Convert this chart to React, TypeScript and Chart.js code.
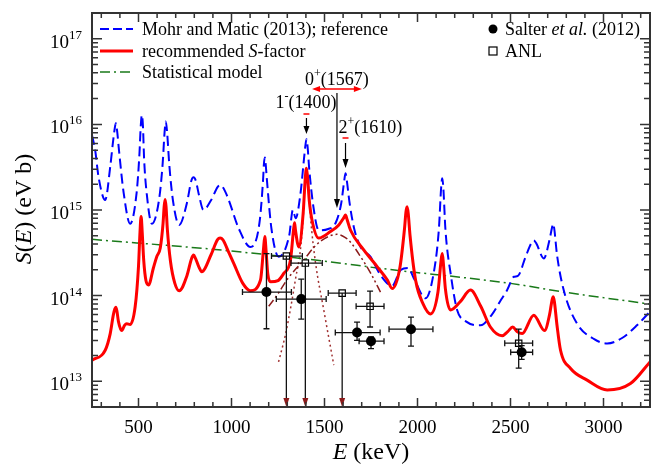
import React, { useEffect, useRef } from 'react';
import { Chart, registerables } from 'chart.js';
Chart.register(...registerables);

const FONT = "'Liberation Serif', 'Times New Roman', serif";

// Mohr and Matic (2013); reference  (blue dashed)
const blueE = [250, 267, 285, 321, 348, 362, 371, 378, 385, 395, 420, 455, 490, 505, 512, 518, 524, 530, 545, 572, 610, 630, 640, 647, 654, 665, 685, 719, 760, 784, 796, 808, 825, 849, 890, 925, 939, 953, 980, 1040, 1102, 1150, 1170, 1174, 1179, 1184, 1190, 1215, 1254, 1310, 1330, 1345, 1370, 1390, 1397, 1403, 1409, 1418, 1440, 1469, 1520, 1559, 1590, 1606, 1613, 1620, 1635, 1660, 1694, 1747, 1801, 1864, 1910, 1950, 1980, 2043, 2090, 2115, 2127, 2133, 2139, 2150, 2180, 2213, 2260, 2339, 2400, 2450, 2482, 2518, 2540, 2580, 2612, 2625, 2638, 2679, 2710, 2723, 2729, 2735, 2750, 2786, 2858, 2950, 3020, 3100, 3180, 3250];
const blueS = [7.5e15, 5e15, 2.45e15, 1.31e15, 3.2e15, 6e15, 8.6e15, 1.03e16, 8.4e15, 5e15, 1.6e15, 6.9e14, 1.6e15, 4.5e15, 9.5e15, 1.29e16, 9.5e15, 4e15, 1.5e15, 6.9e14, 1.3e15, 3.5e15, 8e15, 1.08e16, 8e15, 3.5e15, 1.3e15, 6.7e14, 1.2e15, 2.2e15, 2.41e15, 2.2e15, 1.5e15, 1.0e15, 1.3e15, 1.85e15, 1.96e15, 1.85e15, 1.4e15, 6e14, 3.7e14, 7e14, 2.3e15, 3.4e15, 4.1e15, 3.4e15, 2.3e15, 6e14, 2.85e14, 5e14, 1e15, 8e14, 1.5e15, 4e15, 5.6e15, 6.7e15, 5.5e15, 3e15, 1.1e15, 5.8e14, 6e14, 7e14, 1.2e15, 2.2e15, 2.69e15, 2.2e15, 1.2e15, 6e14, 3.7e14, 2.85e14, 1.74e14, 1.3e14, 2e14, 2.1e14, 1.6e14, 9.3e13, 2e14, 6e14, 1.8e15, 2.35e15, 1.8e15, 6e14, 1.7e14, 6.8e13, 5e13, 4.5e13, 6e13, 9e13, 1.16e14, 1.66e14, 1.7e14, 2.8e14, 4.1e14, 4.4e14, 4.1e14, 2.72e14, 4.5e14, 6.2e14, 6.9e14, 6.1e14, 3e14, 1.16e14, 4.7e13, 3.1e13, 2.76e13, 3.2e13, 4.5e13, 6.5e13];

// recommended S-factor (red solid)
const redE = [250, 321, 348, 365, 373, 378, 384, 392, 410, 425, 437, 455, 482, 500, 508, 514, 520, 528, 540, 554, 580, 598, 617, 632, 638, 643, 648, 655, 672, 695, 719, 760, 785, 796, 807, 825, 840, 890, 925, 939, 953, 984, 1012, 1060, 1102, 1156, 1172, 1179, 1186, 1195, 1210, 1250, 1281, 1317, 1334, 1339, 1344, 1362, 1385, 1397, 1403, 1409, 1418, 1433, 1469, 1532, 1577, 1605, 1613, 1621, 1640, 1712, 1784, 1838, 1864, 1905, 1930, 1938, 1944, 1950, 1960, 1990, 2030, 2070, 2110, 2127, 2133, 2139, 2150, 2177, 2230, 2285, 2340, 2392, 2455, 2485, 2512, 2535, 2563, 2625, 2683, 2710, 2724, 2730, 2736, 2750, 2769, 2823, 2912, 3020, 3145, 3250];
const redS = [1.76e13, 2.3e13, 3.6e13, 6e13, 7e13, 7.3e13, 6.6e13, 5e13, 3.9e13, 4.5e13, 4.7e13, 4.6e13, 7.4e13, 2.2e14, 5.5e14, 8.4e14, 5.5e14, 2.6e14, 1.5e14, 1.33e14, 2.1e14, 2.85e14, 3.6e14, 7e14, 1.1e15, 1.33e15, 1.1e15, 6e14, 2.5e14, 1.4e14, 1.14e14, 1.7e14, 2.7e14, 2.98e14, 2.7e14, 2.15e14, 1.9e14, 3e14, 4.5e14, 4.7e14, 4.5e14, 3.25e14, 2.38e14, 1.4e14, 1.14e14, 1.52e14, 3.5e14, 4.9e14, 3.3e14, 1.8e14, 1.45e14, 1.5e14, 1.82e14, 2.6e14, 6e14, 7.1e14, 5.8e14, 3.7e14, 9e14, 2.4e15, 3.08e15, 2.4e15, 1.3e15, 7.6e14, 4.7e14, 5.6e14, 6.7e14, 8.2e14, 8.75e14, 7.8e14, 5.8e14, 3.4e14, 2.17e14, 1.52e14, 1.21e14, 2.1e14, 6e14, 9.5e14, 1.09e15, 9.2e14, 5e14, 1.5e14, 8e13, 6.1e13, 1.1e14, 2.6e14, 3.1e14, 2.4e14, 1.2e14, 6.8e13, 8.5e13, 1.16e14, 7.5e13, 4.3e13, 3.4e13, 3.8e13, 4.3e13, 3.8e13, 3.6e13, 5.9e13, 3.9e13, 6e13, 9e13, 9.7e13, 8.5e13, 4.5e13, 2.3e13, 1.41e13, 1.03e13, 7.9e12, 9.4e12, 1.68e13];

// Statistical model (green dash-dot)
const statE = [250, 948, 1532, 1801, 2500, 2787, 3250];
const statS = [4.54e14, 3.4e14, 2.48e14, 2.08e14, 1.39e14, 1.1e14, 7.96e13];

// 0+ (1567) broad contribution (dark red dash-dot-dot)
const broadE = [1200, 1250, 1300, 1388, 1440, 1478, 1530, 1567, 1610, 1640, 1694, 1750, 1801];
const broadS = [7.5e13, 1.05e14, 1.55e14, 2.6e14, 3.6e14, 4.3e14, 5e14, 5.2e14, 4.8e14, 4.2e14, 2.85e14, 1.8e14, 1.1e14];

// 1- (1400) narrow contribution (dark red dotted)
const narrowE = [1253, 1290, 1317, 1345, 1371, 1385, 1395, 1403, 1412, 1425, 1452, 1496, 1550];
const narrowS = [1.68e13, 3.5e13, 7e13, 1.6e14, 3.5e14, 8e14, 2e15, 2.9e15, 2e15, 8e14, 2.4e14, 6.8e13, 1.54e13];

// Salter et al. (2012)
const salterE = [1188, 1375, 1675, 1750, 1965, 2560];
const salterS = [1.1e14, 9.1e13, 3.7e13, 2.94e13, 4.05e13, 2.18e13];
const salterElo = [1059, 1241, 1558, 1686, 1847, 2501];
const salterEhi = [1322, 1509, 1799, 1820, 2083, 2619];
const salterSlo = [4.1e13, 5.3e13, 3.0e13, 2.4e13, 2.57e13, 1.8e13];
const salterShi = [3.1e14, 1.56e14, 4.9e13, 3.3e13, 5.6e13, 2.6e13];

// ANL
const anlE = [1295, 1397, 1595, 1745, 2544];
const anlS = [2.9e14, 2.4e14, 1.07e14, 7.5e13, 2.78e13];
const anlElo = [1215, 1320, 1520, 1670, 2469];
const anlEhi = [1381, 1488, 1670, 1820, 2619];
const anlSlo = [0, 0, 0, 4.3e13, 1.42e13];
const anlShi = [0, 0, 0, 1.13e14, 4.05e13];
const anlUpperLimit = [true, true, true, false, false];

const xMajorTicks = [500, 1000, 1500, 2000, 2500, 3000];
const yDecades = [13, 14, 15, 16, 17];

const pts = (xs: number[], ys: number[]) => xs.map((x, i) => ({ x, y: ys[i] }));

type Part = { t: string; it?: boolean; sup?: boolean };
function partFont(p: Part, size: number) {
  const s = p.sup ? Math.round(size * 0.68) : size;
  return `${p.it ? 'italic ' : ''}${s}px ${FONT}`;
}
function richWidth(ctx: CanvasRenderingContext2D, parts: Part[], size: number) {
  let w = 0;
  for (const p of parts) { ctx.font = partFont(p, size); w += ctx.measureText(p.t).width; }
  return w;
}
function drawRich(ctx: CanvasRenderingContext2D, parts: Part[], x: number, y: number, size: number, align: 'left' | 'right' | 'center') {
  const w = richWidth(ctx, parts, size);
  let cx = align === 'left' ? x : align === 'right' ? x - w : x - w / 2;
  ctx.textAlign = 'left';
  ctx.textBaseline = 'alphabetic';
  for (const p of parts) {
    ctx.font = partFont(p, size);
    ctx.fillText(p.t, cx, p.sup ? y - size * 0.42 : y);
    cx += ctx.measureText(p.t).width;
  }
}

function arrowHead(ctx: CanvasRenderingContext2D, x: number, y: number, dir: 'down' | 'left' | 'right', len: number, hw: number) {
  ctx.beginPath();
  if (dir === 'down') { ctx.moveTo(x, y); ctx.lineTo(x - hw, y - len); ctx.lineTo(x + hw, y - len); }
  if (dir === 'left') { ctx.moveTo(x, y); ctx.lineTo(x + len, y - hw); ctx.lineTo(x + len, y + hw); }
  if (dir === 'right') { ctx.moveTo(x, y); ctx.lineTo(x - len, y - hw); ctx.lineTo(x - len, y + hw); }
  ctx.closePath();
  ctx.fill();
}

const errorBarPlugin = {
  id: 'errorBars',
  beforeDatasetDraw(chart: any, args: any) {
    if (args.index !== 0) return;
    const { ctx, scales: { x, y }, chartArea } = chart;
    ctx.save();
    ctx.strokeStyle = '#111';
    ctx.lineWidth = 1.3;
    const cap = 3;
    const hbar = (e0: number, e1: number, s: number) => {
      const py = y.getPixelForValue(s);
      const a = x.getPixelForValue(e0), b = x.getPixelForValue(e1);
      ctx.beginPath();
      ctx.moveTo(a, py); ctx.lineTo(b, py);
      ctx.moveTo(a, py - cap); ctx.lineTo(a, py + cap);
      ctx.moveTo(b, py - cap); ctx.lineTo(b, py + cap);
      ctx.stroke();
    };
    const vbar = (e: number, s0: number, s1: number) => {
      const px = x.getPixelForValue(e);
      const a = y.getPixelForValue(s0), b = y.getPixelForValue(s1);
      ctx.beginPath();
      ctx.moveTo(px, a); ctx.lineTo(px, b);
      ctx.moveTo(px - cap, a); ctx.lineTo(px + cap, a);
      ctx.moveTo(px - cap, b); ctx.lineTo(px + cap, b);
      ctx.stroke();
    };
    salterE.forEach((e, i) => { hbar(salterElo[i], salterEhi[i], salterS[i]); vbar(e, salterSlo[i], salterShi[i]); });
    anlE.forEach((e, i) => {
      hbar(anlElo[i], anlEhi[i], anlS[i]);
      if (anlUpperLimit[i]) {
        const px = x.getPixelForValue(e);
        ctx.beginPath();
        ctx.moveTo(px, y.getPixelForValue(anlS[i]));
        ctx.lineTo(px, chartArea.bottom - 6);
        ctx.stroke();
        ctx.fillStyle = '#8b1a1a';
        arrowHead(ctx, px, chartArea.bottom, 'down', 9, 3);
      } else {
        vbar(e, anlSlo[i], anlShi[i]);
      }
    });
    ctx.restore();
  },
};

const decorPlugin = {
  id: 'decor',
  afterDraw(chart: any) {
    const { ctx, scales: { x, y }, chartArea: ca } = chart;
    ctx.save();
    // ticks
    ctx.strokeStyle = '#333';
    ctx.lineWidth = 1.5;
    ctx.beginPath();
    for (let v = 300; v <= 3200; v += 100) {
      const px = x.getPixelForValue(v);
      const len = v % 500 === 0 ? 9 : 5;
      ctx.moveTo(px, ca.bottom); ctx.lineTo(px, ca.bottom - len);
      ctx.moveTo(px, ca.top); ctx.lineTo(px, ca.top + len);
    }
    for (let n = 12; n <= 17; n++) {
      for (let k = 1; k <= 9; k++) {
        const v = k * Math.pow(10, n);
        if (v < 5e12 || v > 2e17) continue;
        const py = y.getPixelForValue(v);
        const len = k === 1 ? 10 : 6;
        ctx.moveTo(ca.left, py); ctx.lineTo(ca.left + len, py);
        ctx.moveTo(ca.right, py); ctx.lineTo(ca.right - len, py);
      }
    }
    ctx.stroke();
    ctx.lineWidth = 2;
    ctx.strokeRect(ca.left, ca.top, ca.right - ca.left, ca.bottom - ca.top);

    ctx.fillStyle = '#000';
    // y tick labels
    for (const n of yDecades) {
      const py = y.getPixelForValue(Math.pow(10, n));
      ctx.font = `13px ${FONT}`;
      const w2 = ctx.measureText(String(n)).width;
      ctx.font = `19px ${FONT}`;
      const w1 = ctx.measureText('10').width;
      const right = ca.left - 10;
      ctx.textAlign = 'left';
      ctx.textBaseline = 'alphabetic';
      ctx.fillText('10', right - w2 - w1, py + 9);
      ctx.font = `13px ${FONT}`;
      ctx.fillText(String(n), right - w2, py);
    }
    // axis titles
    ctx.save();
    ctx.translate(24, 209);
    ctx.rotate(-Math.PI / 2);
    drawRich(ctx, [{ t: 'S', it: true }, { t: '(' }, { t: 'E', it: true }, { t: ') (eV b)' }], 0, 7, 24, 'center');
    ctx.restore();
    drawRich(ctx, [{ t: 'E', it: true }, { t: ' (keV)' }], (ca.left + ca.right) / 2, 459, 24, 'center');

    // legend
    const lx0 = 100, lx1 = 133, tx = 142;
    const rows = [29, 51, 72];
    ctx.lineWidth = 2;
    ctx.strokeStyle = '#0000ff'; ctx.setLineDash([9, 4]);
    ctx.beginPath(); ctx.moveTo(lx0, rows[0]); ctx.lineTo(lx1, rows[0]); ctx.stroke();
    ctx.lineWidth = 3; ctx.strokeStyle = '#ff0000'; ctx.setLineDash([]);
    ctx.beginPath(); ctx.moveTo(lx0, rows[1]); ctx.lineTo(lx1, rows[1]); ctx.stroke();
    ctx.lineWidth = 1.5; ctx.strokeStyle = '#1a7a1a'; ctx.setLineDash([10, 4, 2, 4]);
    ctx.beginPath(); ctx.moveTo(lx0, rows[2]); ctx.lineTo(lx1, rows[2]); ctx.stroke();
    ctx.setLineDash([]);
    ctx.fillStyle = '#000';
    drawRich(ctx, [{ t: 'Mohr and Matic (2013); reference' }], tx, rows[0] + 6, 18, 'left');
    drawRich(ctx, [{ t: 'recommended ' }, { t: 'S', it: true }, { t: '-factor' }], tx, rows[1] + 6, 18, 'left');
    drawRich(ctx, [{ t: 'Statistical model' }], tx, rows[2] + 6, 18, 'left');
    ctx.beginPath(); ctx.arc(493, rows[0], 4.5, 0, Math.PI * 2); ctx.fill();
    ctx.lineWidth = 1.2; ctx.strokeStyle = '#000';
    ctx.fillStyle = '#fff'; ctx.fillRect(489, rows[1] - 4, 8, 8); ctx.strokeRect(489, rows[1] - 4, 8, 8);
    ctx.fillStyle = '#000';
    drawRich(ctx, [{ t: 'Salter ' }, { t: 'et al.', it: true }, { t: ' (2012)' }], 505, rows[0] + 6, 18, 'left');
    drawRich(ctx, [{ t: 'ANL' }], 505, rows[1] + 6, 18, 'left');

    // resonance annotations
    const p1400 = x.getPixelForValue(1403);
    const p1567 = x.getPixelForValue(1567);
    const p1610 = x.getPixelForValue(1613);
    drawRich(ctx, [{ t: '1' }, { t: '-', sup: true }, { t: '(1400)' }], p1400 + 30, 108, 18, 'right');
    drawRich(ctx, [{ t: '0' }, { t: '+', sup: true }, { t: '(1567)' }], p1567, 85, 18, 'center');
    drawRich(ctx, [{ t: '2' }, { t: '+', sup: true }, { t: '(1610)' }], p1610 - 7, 133, 18, 'left');
    ctx.strokeStyle = '#000'; ctx.fillStyle = '#000'; ctx.lineWidth = 1.2;
    ctx.beginPath();
    ctx.moveTo(p1400, 118); ctx.lineTo(p1400, 128);
    ctx.moveTo(p1567, 93); ctx.lineTo(p1567, 200);
    ctx.moveTo(p1610, 143); ctx.lineTo(p1610, 160);
    ctx.stroke();
    arrowHead(ctx, p1400, 134, 'down', 8, 3);
    arrowHead(ctx, p1567, 208, 'down', 9, 3);
    arrowHead(ctx, p1610, 168, 'down', 9, 3);
    ctx.strokeStyle = '#ff0000'; ctx.fillStyle = '#ff0000'; ctx.lineWidth = 1.6;
    ctx.beginPath();
    ctx.moveTo(p1400 - 3, 114); ctx.lineTo(p1400 + 3, 114);
    ctx.moveTo(p1610 - 3, 138); ctx.lineTo(p1610 + 3, 138);
    const dl = x.getPixelForValue(1567 - 134), dr = x.getPixelForValue(1567 + 134);
    ctx.moveTo(dl + 6, 89); ctx.lineTo(dr - 6, 89);
    ctx.stroke();
    arrowHead(ctx, dl, 89, 'left', 8, 3);
    arrowHead(ctx, dr, 89, 'right', 8, 3);
    ctx.restore();
  },
};

export default function App() {
  const ref = useRef<HTMLCanvasElement>(null);
  useEffect(() => {
    const line = (data: any, color: string, width: number, dash: number[], order: number) => ({
      type: 'scatter' as const,
      data,
      showLine: true,
      borderColor: color,
      borderWidth: width,
      borderDash: dash,
      pointRadius: 0,
      fill: false,
      cubicInterpolationMode: 'monotone' as const,
      order,
    });
    const chart = new Chart(ref.current!, {
      type: 'scatter',
      data: {
        datasets: [
          { data: pts(salterE, salterS), pointStyle: 'circle', radius: 5, backgroundColor: '#000', borderColor: '#000', borderWidth: 0, order: 0 } as any,
          { data: pts(anlE, anlS), pointStyle: 'rect', radius: 4.5, backgroundColor: '#fff', borderColor: '#000', borderWidth: 1.2, order: 0 } as any,
          line(pts(redE, redS), '#ff0000', 3, [], 1),
          line(pts(blueE, blueS), '#0000ff', 2, [10, 5], 2),
          line(pts(statE, statS), '#1a7a1a', 1.5, [10, 4, 2, 4], 3),
          line(pts(broadE, broadS), '#8b1a1a', 1.5, [8, 3, 2, 3, 2, 3], 4),
          line(pts(narrowE, narrowS), '#a03030', 1.5, [2, 3], 5),
        ],
      },
      options: {
        animation: false,
        responsive: true,
        maintainAspectRatio: false,
        layout: { padding: { top: 13, right: 10, left: 0, bottom: 0 } },
        plugins: { legend: { display: false }, tooltip: { enabled: false } },
        scales: {
          x: {
            type: 'linear', min: 250, max: 3250,
            afterBuildTicks: (s: any) => { s.ticks = xMajorTicks.map((v) => ({ value: v })); },
            afterFit: (s: any) => { s.height = 57; },
            grid: { display: false },
            border: { display: false },
            ticks: { color: '#000', font: { family: FONT, size: 19 }, padding: 2, maxRotation: 0, callback: (v: any) => String(v) },
          },
          y: {
            type: 'logarithmic', min: 5e12, max: 2e17,
            afterBuildTicks: (s: any) => { s.ticks = yDecades.map((n) => ({ value: Math.pow(10, n) })); },
            afterFit: (s: any) => { s.width = 92; },
            grid: { display: false },
            border: { display: false },
            ticks: { display: false },
          },
        },
      },
      plugins: [errorBarPlugin, decorPlugin],
    } as any);
    return () => chart.destroy();
  }, []);
  return (
    <div style={{ position: 'fixed', left: 0, top: 0, width: 660, height: 464, background: '#fff' }}>
      <canvas ref={ref} />
    </div>
  );
}
